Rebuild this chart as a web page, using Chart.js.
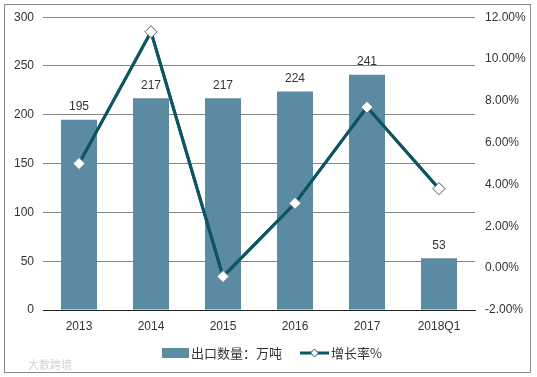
<!DOCTYPE html>
<html>
<head>
<meta charset="utf-8">
<script src="https://cdn.jsdelivr.net/npm/chart.js@4"></script>
<style>
  body { margin: 0; background: #fff; }
  #wrap { position: relative; width: 537px; height: 377px; }
</style>
</head>
<body>
<div id="wrap"><canvas id="exportChart" width="537" height="377"></canvas></div>
<script>
// categories and series
const years = ["2013", "2014", "2015", "2016", "2017", "2018Q1"];
const exportVolume = [195, 217, 217, 224, 241, 53]; // 万吨
const growthRate = [5.0, 11.3, -0.4, 3.1, 7.7, 3.8]; // %
const leftTicks = [0, 50, 100, 150, 200, 250, 300];
const rightTicks = [-2, 0, 2, 4, 6, 8, 10, 12];

const barColor = "#5b8ba3";
const lineColor = "#0d5562";
const fontFamily = "'Liberation Sans', Arial, sans-serif";

// frame, value labels, legend and watermark
const decorations = {
  id: "decorations",
  beforeDraw(chart) {
    const ctx = chart.ctx;
    ctx.save();
    ctx.fillStyle = "#fff";
    ctx.fillRect(0, 0, chart.width, chart.height);
    ctx.strokeStyle = "#8a8a8a";
    ctx.lineWidth = 1;
    ctx.strokeRect(4.5, 4.5, 526, 368);
    ctx.restore();
  },
  afterDatasetsDraw(chart) {
    const ctx = chart.ctx;
    ctx.save();
    // re-stroke the growth line through the points the library placed,
    // then put the diamond markers back on top
    const lineMeta = chart.getDatasetMeta(1);
    ctx.strokeStyle = lineColor;
    ctx.lineWidth = 3;
    ctx.lineJoin = "miter";
    ctx.beginPath();
    lineMeta.data.forEach((pt, i) => {
      if (i === 0) ctx.moveTo(pt.x, pt.y);
      else ctx.lineTo(pt.x, pt.y);
    });
    ctx.stroke();
    lineMeta.data.forEach(pt => pt.draw(ctx, chart.chartArea));
    ctx.restore();

    ctx.save();
    // value labels over bars
    const meta = chart.getDatasetMeta(0);
    ctx.font = "12px " + fontFamily;
    ctx.fillStyle = "#333";
    ctx.textAlign = "center";
    ctx.textBaseline = "middle";
    meta.data.forEach((bar, i) => {
      ctx.fillText(String(exportVolume[i]), bar.x, bar.y - 13);
    });
    ctx.restore();
  },
  afterDraw(chart) {
    const ctx = chart.ctx;
    ctx.save();
    const ly = 353;
    ctx.font = "13px 'Noto Sans CJK SC', sans-serif";
    ctx.textBaseline = "middle";
    ctx.textAlign = "left";
    // bar legend
    ctx.fillStyle = barColor;
    ctx.fillRect(162, ly - 5, 27, 10);
    ctx.fillStyle = "#333";
    ctx.fillText(chart.data.datasets[0].label, 191, ly);
    // line legend
    ctx.strokeStyle = lineColor;
    ctx.lineWidth = 3;
    ctx.beginPath();
    ctx.moveTo(300, ly);
    ctx.lineTo(329, ly);
    ctx.stroke();
    ctx.fillStyle = "#fff";
    ctx.strokeStyle = lineColor;
    ctx.lineWidth = 1;
    ctx.beginPath();
    ctx.moveTo(314.5, ly - 4);
    ctx.lineTo(318.5, ly);
    ctx.lineTo(314.5, ly + 4);
    ctx.lineTo(310.5, ly);
    ctx.closePath();
    ctx.fill();
    ctx.stroke();
    ctx.fillStyle = "#333";
    ctx.fillText(chart.data.datasets[1].label, 331, ly);
    // faint watermark
    ctx.font = "11px 'Noto Sans CJK SC', sans-serif";
    ctx.fillStyle = "#d2d2d2";
    ctx.fillText("大数跨境", 28, 365);
    ctx.restore();
  }
};

new Chart(document.getElementById("exportChart"), {
  data: {
    labels: years,
    datasets: [
      {
        type: "bar",
        label: "出口数量：万吨",
        data: exportVolume,
        yAxisID: "yLeft",
        backgroundColor: barColor,
        barPercentage: 0.5,
        categoryPercentage: 1,
        order: 1
      },
      {
        type: "line",
        label: "增长率%",
        data: growthRate,
        yAxisID: "yRight",
        borderColor: lineColor,
        borderWidth: 3,
        pointStyle: "rectRot",
        pointRadius: 6,
        pointBackgroundColor: "#fff",
        pointBorderColor: "#5f7f86",
        pointBorderWidth: 1,
        tension: 0,
        order: 0
      }
    ]
  },
  options: {
    responsive: false,
    animation: false,
    layout: { padding: { top: 10, left: 0, right: 0, bottom: 0 } },
    plugins: {
      legend: { display: false },
      tooltip: { enabled: false }
    },
    scales: {
      x: {
        grid: { display: false, drawTicks: false },
        border: { display: true, color: "#222", width: 1 },
        ticks: { color: "#333", font: { size: 12, family: fontFamily }, padding: 9 },
        afterFit(scale) { scale.height = 67; }
      },
      yLeft: {
        position: "left",
        min: 0,
        max: 300,
        afterBuildTicks(scale) { scale.ticks = leftTicks.map(v => ({ value: v })); },
        grid: { color: "#858585", drawTicks: false },
        border: { display: false },
        ticks: { color: "#333", font: { size: 12, family: fontFamily }, padding: 9 },
        afterFit(scale) { scale.width = 43; }
      },
      yRight: {
        position: "right",
        min: -2,
        max: 12,
        afterBuildTicks(scale) { scale.ticks = rightTicks.map(v => ({ value: v })); },
        grid: { display: false, drawTicks: false },
        border: { display: false },
        ticks: {
          color: "#333",
          font: { size: 12, family: fontFamily },
          padding: 10,
          callback: v => v.toFixed(2) + "%"
        },
        afterFit(scale) { scale.width = 62; }
      }
    }
  },
  plugins: [decorations]
});
</script>
</body>
</html>
